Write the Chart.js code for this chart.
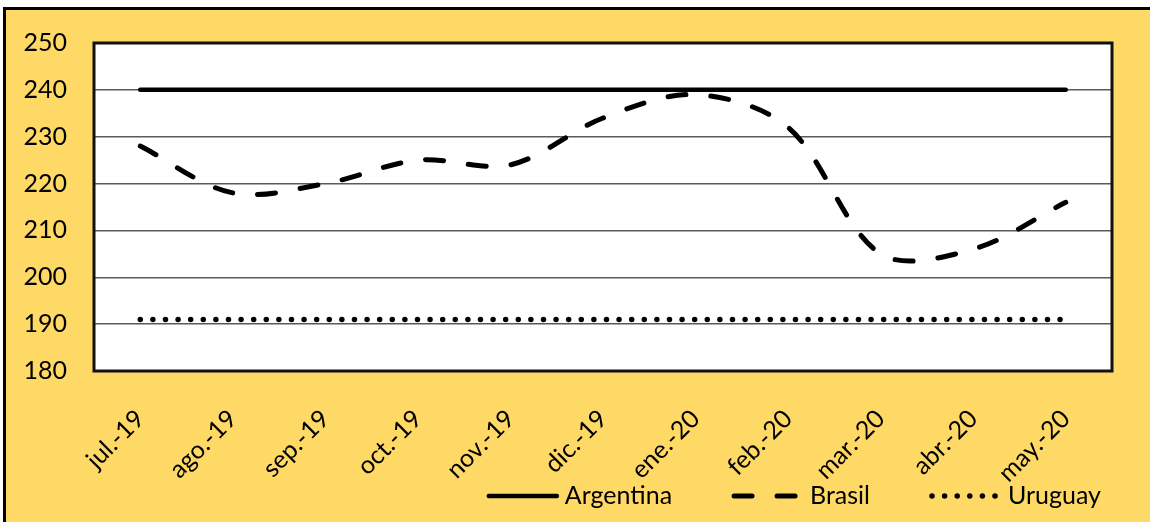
<!DOCTYPE html>
<html>
<head>
<meta charset="utf-8">
<script src="https://cdn.jsdelivr.net/npm/chart.js@4/dist/chart.umd.min.js"></script>
<style>
  body { margin: 0; background: #fff; overflow: hidden; }
  #frame {
    position: absolute; left: 3px; top: 7px; width: 1200px; height: 600px;
    border-left: 3px solid #000; border-top: 3px solid #000; background: #FFD966;
  }
  #myChart { position: absolute; left: 0; top: 0; }
</style>
</head>
<body>
<div id="frame"></div>
<canvas id="myChart" width="1150" height="522"></canvas>
<script>
let labels = ["jul.-19", "ago.-19", "sep.-19", "oct.-19", "nov.-19", "dic.-19",
              "ene.-20", "feb.-20", "mar.-20", "abr.-20", "may.-20"];
let seriesNames = ["Argentina", "Brasil", "Uruguay"];
let argentina = [240, 240, 240, 240, 240, 240, 240, 240, 240, 240, 240];
let brasil = [228, 218, 220, 225, 224, 234, 239, 232, 205, 206, 216];
let uruguay = [191, 191, 191, 191, 191, 191, 191, 191, 191, 191, 191];
let yMin = 180, yMax = 250, yStep = 10;

let font = "Lato, 'Liberation Sans', sans-serif";

// white plot area + black frame
let plotBox = {
  id: "plotBox",
  beforeDraw(chart) {
    let a = chart.chartArea;
    let ctx = chart.ctx;
    ctx.save();
    ctx.fillStyle = "#fff";
    ctx.fillRect(a.left, a.top, a.right - a.left, a.bottom - a.top);
    ctx.restore();
  },
  afterDraw(chart) {
    let a = chart.chartArea;
    let ctx = chart.ctx;
    ctx.save();
    ctx.strokeStyle = "#111";
    ctx.lineWidth = 3;
    ctx.strokeRect(a.left, a.top, a.right - a.left, a.bottom - a.top);
    ctx.restore();
  }
};

// legend drawn from the datasets' own line styles, right aligned
let lineLegend = {
  id: "lineLegend",
  afterDraw(chart) {
    let ctx = chart.ctx;
    let sample = 68, gap = 8, itemGap = 62, rightEdge = 1101, y = 496;
    ctx.save();
    ctx.font = "25px " + font;
    ctx.textBaseline = "middle";
    let sets = chart.data.datasets;
    let total = 0;
    sets.forEach((ds, i) => {
      total += sample + gap + ctx.measureText(ds.label).width;
      if (i > 0) total += itemGap;
    });
    let x = rightEdge - total;
    sets.forEach((ds) => {
      ctx.strokeStyle = ds.borderColor;
      ctx.lineWidth = ds.borderWidth;
      ctx.lineCap = "round";
      ctx.setLineDash(ds.borderDash || []);
      ctx.beginPath();
      ctx.moveTo(x, y);
      ctx.lineTo(x + sample, y);
      ctx.stroke();
      ctx.setLineDash([]);
      ctx.fillStyle = "#000";
      ctx.fillText(ds.label, x + sample + gap, y);
      x += sample + gap + ctx.measureText(ds.label).width + itemGap;
    });
    ctx.restore();
  }
};

function drawChart() {
  let myChart = document.getElementById("myChart").getContext("2d");
  let chart = new Chart(myChart, {
    type: "line",
    data: {
      labels: labels,
      datasets: [
        {
          label: seriesNames[0],
          data: argentina,
          borderColor: "#000",
          borderWidth: 4.5,
          borderCapStyle: "round",
          pointRadius: 0,
        },
        {
          label: seriesNames[1],
          data: brasil,
          borderColor: "#000",
          borderWidth: 5,
          borderCapStyle: "round",
          borderDash: [18, 25],
          tension: 0.33,
          pointRadius: 0,
        },
        {
          label: seriesNames[2],
          data: uruguay,
          borderColor: "#000",
          borderWidth: 5.5,
          borderCapStyle: "round",
          borderDash: [0, 12.6],
          pointRadius: 0,
        },
      ],
    },
    options: {
      responsive: false,
      animation: false,
      layout: { padding: { left: 10, top: 43, right: 38, bottom: 0 } },
      plugins: {
        legend: { display: false },
        tooltip: { enabled: false },
      },
      scales: {
        x: {
          offset: true,
          grid: { display: false, drawTicks: false },
          border: { display: false },
          ticks: {
            autoSkip: false,
            minRotation: 45,
            maxRotation: 45,
            padding: 33,
            color: "#000",
            font: { family: font, size: 25 },
          },
          afterFit(s) { s.height = 151; },
        },
        y: {
          min: yMin,
          max: yMax,
          grid: { color: "#5a5a5a", lineWidth: 1.5, drawTicks: false },
          border: { display: false },
          ticks: {
            stepSize: yStep,
            padding: 27,
            color: "#000",
            font: { family: font, size: 25 },
          },
          afterFit(s) { s.width = 84; },
        },
      },
    },
    plugins: [plotBox, lineLegend],
  });
}
drawChart();
</script>
</body>
</html>
